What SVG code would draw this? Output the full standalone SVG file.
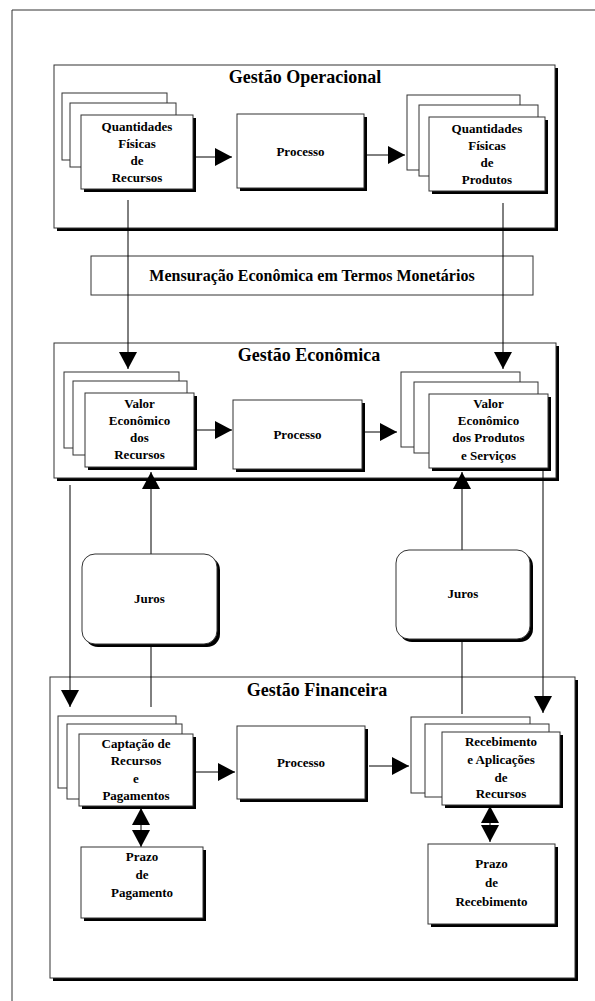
<svg xmlns="http://www.w3.org/2000/svg" width="595" height="1001" viewBox="0 0 595 1001">
<style>
text{font-family:"Liberation Serif","Times New Roman",serif;font-weight:bold;fill:#000;text-anchor:middle}
.t{font-size:18px}
.m{font-size:16px}
.n{font-size:13px}
.sh{fill:#000;stroke:none}
.box{fill:#fff;stroke:#333;stroke-width:1}
.open{fill:none;stroke:#333;stroke-width:1}
.c{stroke:#000;stroke-width:1;fill:none}
</style>
<defs>
<marker id="arr" markerUnits="userSpaceOnUse" markerWidth="18" markerHeight="18" refX="17" refY="9" orient="auto-start-reverse" viewBox="0 0 18 18">
<path d="M0,0 L17,9 L0,18 Z" fill="#000"/>
</marker>
</defs>
<rect width="595" height="1001" fill="#fff"/>
<path class="open" d="M12,1001 V10 H595"/>

<g id="gestao-operacional">
<rect class="sh" x="57" y="68" width="501" height="163"/>
<rect class="box" x="54" y="65" width="501" height="163"/>
<text class="t" x="305" y="83">Gestão Operacional</text>
</g>
<g id="mensuracao">
<rect class="open" x="91" y="256" width="442" height="39"/>
<text class="m" x="312" y="281">Mensuração Econômica em Termos Monetários</text>
</g>
<g id="gestao-economica">
<rect class="sh" x="57" y="346" width="502" height="135"/>
<rect class="box" x="54" y="343" width="502" height="135"/>
<text class="t" x="309" y="361">Gestão Econômica</text>
</g>
<g id="gestao-financeira">
<rect class="sh" x="53" y="680" width="525" height="301"/>
<rect class="box" x="50" y="677" width="525" height="301"/>
<text class="t" x="317" y="696">Gestão Financeira</text>
</g>

<g id="connectors">
<line class="c" x1="196" y1="157" x2="232" y2="157" marker-end="url(#arr)"/>
<line class="c" x1="367" y1="155" x2="405" y2="155" marker-end="url(#arr)"/>
<line class="c" x1="128" y1="200" x2="128" y2="369" marker-end="url(#arr)"/>
<line class="c" x1="503" y1="203" x2="503" y2="369" marker-end="url(#arr)"/>
<line class="c" x1="197" y1="430" x2="232" y2="430" marker-end="url(#arr)"/>
<line class="c" x1="364" y1="432" x2="397" y2="432" marker-end="url(#arr)"/>
<line class="c" x1="151" y1="554" x2="151" y2="472" marker-end="url(#arr)"/>
<line class="c" x1="151" y1="644" x2="151" y2="707"/>
<line class="c" x1="462" y1="550" x2="462" y2="472" marker-end="url(#arr)"/>
<line class="c" x1="462" y1="639" x2="462" y2="714"/>
<line class="c" x1="70" y1="485" x2="70" y2="707" marker-end="url(#arr)"/>
<line class="c" x1="543" y1="470" x2="543" y2="713" marker-end="url(#arr)"/>
<line class="c" x1="196" y1="772" x2="235" y2="772" marker-end="url(#arr)"/>
<line class="c" x1="369" y1="766" x2="409" y2="766" marker-end="url(#arr)"/>
<line class="c" x1="141" y1="808" x2="141" y2="847" marker-start="url(#arr)" marker-end="url(#arr)"/>
<line class="c" x1="490" y1="806" x2="490" y2="842" marker-start="url(#arr)" marker-end="url(#arr)"/>
</g>

<g id="qf-recursos">
<rect class="box" x="62" y="93" width="105" height="67"/>
<rect class="box" x="70" y="103" width="106" height="64"/>
<rect class="sh" x="84" y="118" width="112" height="74"/>
<rect class="box" x="81" y="115" width="112" height="74"/>
<text class="n" x="137" y="131">Quantidades</text>
<text class="n" x="137" y="148">Físicas</text>
<text class="n" x="137" y="165">de</text>
<text class="n" x="137" y="182">Recursos</text>
</g>
<g id="processo-op">
<rect class="sh" x="240" y="117" width="127" height="74"/>
<rect class="box" x="237" y="114" width="127" height="74"/>
<text class="n" x="300.5" y="156">Processo</text>
</g>
<g id="qf-produtos">
<rect class="box" x="407" y="95" width="113" height="75"/>
<rect class="box" x="419" y="105" width="119" height="71"/>
<rect class="sh" x="432" y="120" width="116" height="74"/>
<rect class="box" x="429" y="117" width="116" height="74"/>
<text class="n" x="487" y="133">Quantidades</text>
<text class="n" x="487" y="150">Físicas</text>
<text class="n" x="487" y="167">de</text>
<text class="n" x="487" y="184">Produtos</text>
</g>

<g id="ve-recursos">
<rect class="box" x="64" y="372" width="115" height="76"/>
<rect class="box" x="73" y="381" width="114" height="74"/>
<rect class="sh" x="88" y="396" width="109" height="74"/>
<rect class="box" x="85" y="393" width="109" height="74"/>
<text class="n" x="139.5" y="408">Valor</text>
<text class="n" x="139.5" y="425">Econômico</text>
<text class="n" x="139.5" y="442">dos</text>
<text class="n" x="139.5" y="459">Recursos</text>
</g>
<g id="processo-ec">
<rect class="sh" x="236" y="403" width="129" height="69"/>
<rect class="box" x="233" y="400" width="129" height="69"/>
<text class="n" x="297.5" y="439">Processo</text>
</g>
<g id="ve-produtos">
<rect class="box" x="401" y="372" width="119" height="75"/>
<rect class="box" x="414" y="382" width="124" height="71"/>
<rect class="sh" x="432" y="397" width="119" height="74"/>
<rect class="box" x="429" y="394" width="119" height="74"/>
<text class="n" x="488.5" y="408">Valor</text>
<text class="n" x="488.5" y="425">Econômico</text>
<text class="n" x="488.5" y="442">dos Produtos</text>
<text class="n" x="488.5" y="460">e Serviços</text>
</g>

<g id="juros-1">
<rect class="sh" x="85" y="557" width="135" height="90" rx="13"/>
<rect class="box" x="82" y="554" width="135" height="90" rx="13"/>
<text class="n" x="149.5" y="603">Juros</text>
</g>
<g id="juros-2">
<rect class="sh" x="399" y="553" width="134" height="89" rx="13"/>
<rect class="box" x="396" y="550" width="134" height="89" rx="13"/>
<text class="n" x="463" y="598">Juros</text>
</g>

<g id="captacao">
<rect class="box" x="58" y="716" width="118" height="72"/>
<rect class="box" x="67" y="724" width="115" height="75"/>
<rect class="sh" x="82" y="737" width="114" height="72"/>
<rect class="box" x="79" y="734" width="114" height="72"/>
<text class="n" x="136" y="748">Captação de</text>
<text class="n" x="136" y="765">Recursos</text>
<text class="n" x="136" y="783">e</text>
<text class="n" x="136" y="800">Pagamentos</text>
</g>
<g id="processo-fin">
<rect class="sh" x="240" y="729" width="128" height="73"/>
<rect class="box" x="237" y="726" width="128" height="73"/>
<text class="n" x="301" y="767">Processo</text>
</g>
<g id="recebimento">
<rect class="box" x="411" y="717" width="119" height="76"/>
<rect class="box" x="425" y="724" width="124" height="73"/>
<rect class="sh" x="445" y="735" width="118" height="73"/>
<rect class="box" x="442" y="732" width="118" height="73"/>
<text class="n" x="501" y="746">Recebimento</text>
<text class="n" x="501" y="764">e Aplicações</text>
<text class="n" x="501" y="782">de</text>
<text class="n" x="501" y="798">Recursos</text>
</g>
<g id="prazo-pagamento">
<rect class="sh" x="84" y="850" width="122" height="71"/>
<rect class="box" x="81" y="847" width="122" height="71"/>
<text class="n" x="142" y="861">Prazo</text>
<text class="n" x="142" y="879">de</text>
<text class="n" x="142" y="897">Pagamento</text>
</g>
<g id="prazo-recebimento">
<rect class="sh" x="431" y="847" width="127" height="80"/>
<rect class="box" x="428" y="844" width="127" height="80"/>
<text class="n" x="491.5" y="868">Prazo</text>
<text class="n" x="491.5" y="887">de</text>
<text class="n" x="491.5" y="906">Recebimento</text>
</g>
</svg>
